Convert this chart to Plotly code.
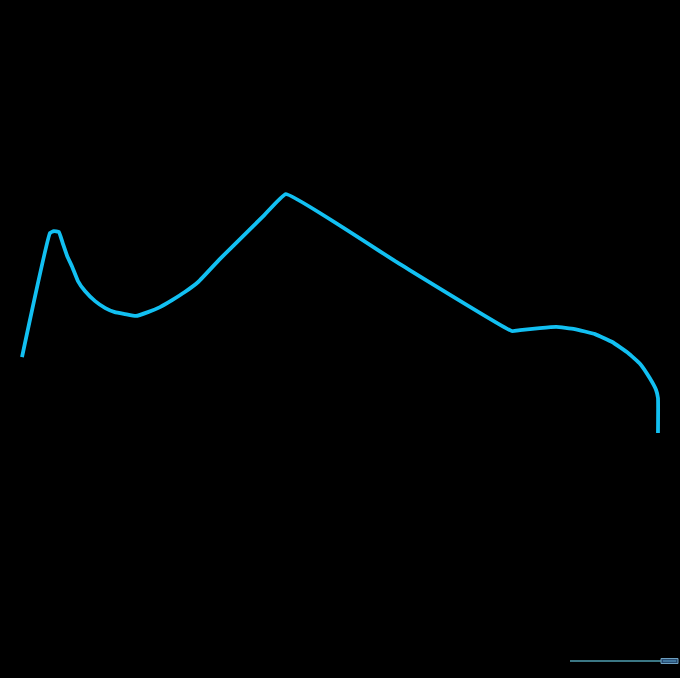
import plotly.graph_objects as go

# curve (x: 0-100, y: relative height)
x_vals = [0, 4.4, 5.0, 5.8, 6.4, 7.1, 7.9, 8.8, 9.9,
          11.5, 13.1, 14.6, 16.2, 17.9, 19.8, 21.7, 23.6, 25.6, 27.7, 31.1,
          34.6, 38.1, 41.5, 59.0, 77.0, 78.3, 81.4, 84.0, 86.9, 90.1, 92.8,
          95.3, 97.2, 98.7, 99.7, 100, 100]
y_vals = [31.8, 83.7, 84.5, 84.1, 79.5, 74.1,
          69.5, 63.6, 59.4, 55.2, 52.3, 50.6, 49.8, 49.0, 50.6, 52.7, 55.6,
          59.0, 63.2, 72.8, 82.0, 91.2, 100, 71.4, 42.7, 43.1, 43.9, 44.4,
          43.5, 41.4, 38.1, 33.5, 28.9, 23.0, 18.0, 14.6, 0]

fig = go.Figure()
fig.add_trace(go.Scatter(x=x_vals, y=y_vals, mode="lines",
                         line=dict(color="#12c0f2", width=3.8,
                                   shape="spline", smoothing=0.3),
                         hoverinfo="skip", showlegend=False))

# small slider-like bar in the bottom right corner
fig.add_shape(type="line", xref="paper", yref="paper",
              x0=570 / 680, x1=661 / 680, y0=17 / 678, y1=17 / 678,
              line=dict(color="#4f9fb0", width=1.5))
fig.add_shape(type="rect", xref="paper", yref="paper",
              x0=661 / 680, x1=678 / 680, y0=14.5 / 678, y1=19.5 / 678,
              line=dict(color="#6fa0c0", width=1), fillcolor="#264a70")
fig.add_shape(type="line", xref="paper", yref="paper",
              x0=663 / 680, x1=676 / 680, y0=17 / 678, y1=17 / 678,
              line=dict(color="#5a9fc8", width=1))

fig.update_xaxes(range=[-3.46, 103.46], visible=False)
fig.update_yaxes(range=[-102.5, 181.2], visible=False)
fig.update_layout(width=680, height=678,
                  margin=dict(l=0, r=0, t=0, b=0),
                  paper_bgcolor="black", plot_bgcolor="black")

fig.write_html("out.html", config={"displayModeBar": False},
               post_script="document.body.style.margin='0';"
                           "document.body.style.background='black';")
